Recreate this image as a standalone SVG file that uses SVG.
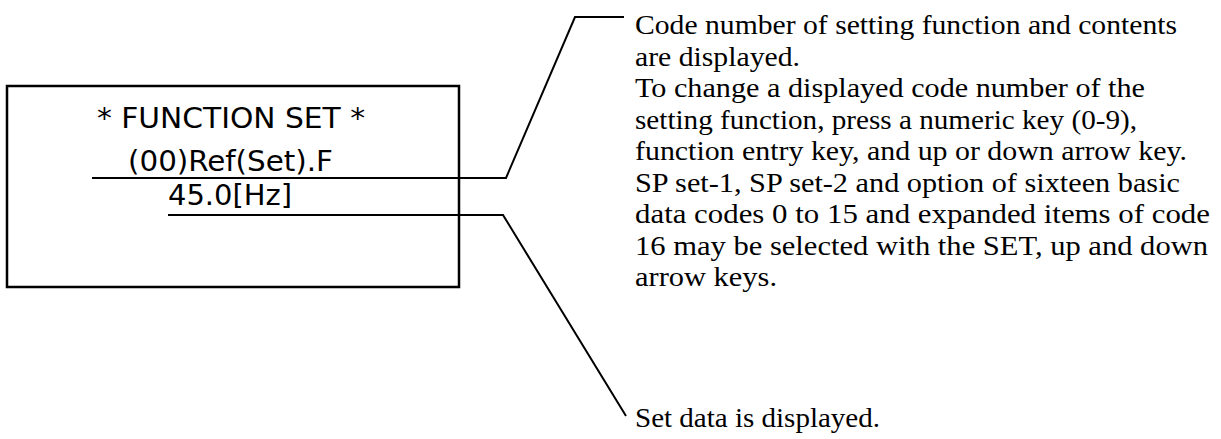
<svg xmlns="http://www.w3.org/2000/svg" width="1221" height="439" viewBox="0 0 1221 439">
<style>
.lcd{font-family:"DejaVu Sans Condensed","DejaVu Sans",sans-serif;font-size:28px;fill:#000;text-anchor:start}
.note{font-family:"Liberation Serif",serif;font-size:27px;fill:#000}
.ln{fill:none;stroke:#000;stroke-width:2}
</style>
<rect width="1221" height="439" fill="#fff"/>
<g id="display">
<rect x="7" y="86" width="452" height="201" fill="none" stroke="#000" stroke-width="2.5"/>
<text class="lcd" x="97" y="128" textLength="268" lengthAdjust="spacingAndGlyphs">* FUNCTION SET *</text>
<text class="lcd" x="128" y="171" textLength="205" lengthAdjust="spacingAndGlyphs">(00)Ref(Set).F</text>
<text class="lcd" x="168" y="205" textLength="124" lengthAdjust="spacingAndGlyphs">45.0[Hz]</text>
</g>
<g id="connectors">
<polyline class="ln" points="92,178 506,178 575,17 624,17"/>
<polyline class="ln" points="168,215 503,215 626,416"/>
</g>
<g id="note-code">
<text class="note" x="635" y="34" textLength="542" lengthAdjust="spacingAndGlyphs">Code number of setting function and contents</text>
<text class="note" x="635" y="65.5" textLength="165" lengthAdjust="spacingAndGlyphs">are displayed.</text>
<text class="note" x="635" y="97" textLength="510" lengthAdjust="spacingAndGlyphs">To change a displayed code number of the</text>
<text class="note" x="635" y="128.5" textLength="502" lengthAdjust="spacingAndGlyphs">setting function, press a numeric key (0-9),</text>
<text class="note" x="635" y="160" textLength="552" lengthAdjust="spacingAndGlyphs">function entry key, and up or down arrow key.</text>
<text class="note" x="635" y="191.5" textLength="545" lengthAdjust="spacingAndGlyphs">SP set-1, SP set-2 and option of sixteen basic</text>
<text class="note" x="635" y="223" textLength="575" lengthAdjust="spacingAndGlyphs">data codes 0 to 15 and expanded items of code</text>
<text class="note" x="635" y="254.5" textLength="573" lengthAdjust="spacingAndGlyphs">16 may be selected with the SET, up and down</text>
<text class="note" x="635" y="286" textLength="142" lengthAdjust="spacingAndGlyphs">arrow keys.</text>
</g>
<g id="note-data">
<text class="note" x="635" y="427" textLength="245" lengthAdjust="spacingAndGlyphs">Set data is displayed.</text>
</g>
</svg>
